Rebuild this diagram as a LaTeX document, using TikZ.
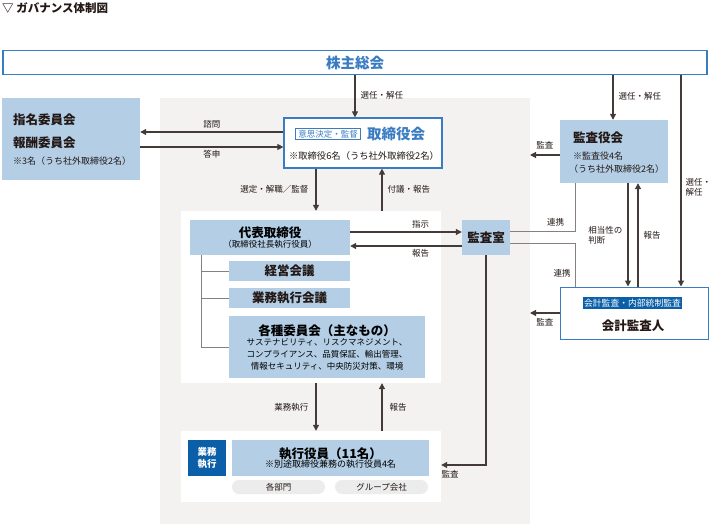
\documentclass[tikz,border=0pt]{standalone}
\usepackage{fontspec}
\setmainfont{Noto Sans CJK JP}
\usetikzlibrary{arrows.meta}
\definecolor{lblue}{HTML}{B3CEE5}
\definecolor{dblue}{HTML}{0B5FA8}
\definecolor{bline}{HTML}{3A7CC2}
\definecolor{bgray}{HTML}{F3F2F0}
\definecolor{ink}{HTML}{231815}
\definecolor{pillgray}{HTML}{ECECEC}
\tikzset{
  arr/.style={draw=ink!85, line width=1.1pt, -{Triangle[length=6pt,width=6pt]}},
  lnk/.style={draw=ink!55, line width=0.8pt},
  lbl/.style={font=\fontsize{8.5}{10}\selectfont, text=ink, inner sep=1pt},
  note/.style={font=\fontsize{9}{11}\selectfont, text=ink, inner sep=0pt},
  head/.style={font=\fontsize{12.5}{14}\selectfont\bfseries, text=ink, inner sep=0pt},
  bluebox/.style={fill=lblue, inner sep=0pt},
  pillbox/.style={fill=pillgray, rounded corners=7pt, inner sep=0pt,
    minimum width=93pt, minimum height=14pt, font=\fontsize{8.5}{10}\selectfont, text=ink},
}
\begin{document}
\begin{tikzpicture}[x=1pt,y=-1pt]
  \useasboundingbox (0,0) rectangle (710,524);
  % background areas
  \fill[bgray] (160,98) rectangle (530,524);
  \node[fill=white, inner sep=0pt, minimum width=260pt, minimum height=172pt] (exec) at (311,297) {};
  \node[fill=white, inner sep=0pt, minimum width=260pt, minimum height=71pt] (ofc) at (311,466.5) {};
  \node[anchor=west, font=\fontsize{11.5}{13}\selectfont\bfseries, text=ink, inner sep=0pt] (title) at (2,8) {▽ ガバナンス体制図};
  % shareholders
  \node[draw=bline, line width=1.5pt, fill=white, minimum width=704pt, minimum height=24pt,
    font=\fontsize{14.5}{16}\selectfont\bfseries, text=bline] (kabu) at (355,62.5) {株主総会};
  % committees
  \node[bluebox, minimum width=138pt, minimum height=82pt] (shimei) at (71,139) {};
  \node[head, anchor=west] (shimeiA) at (13,120) {指名委員会};
  \node[head, anchor=west] (shimeiB) at (13,143) {報酬委員会};
  \node[note, anchor=west] (shimeiC) at (13,161) {※3名（うち社外取締役2名）};
  % board
  \node[draw=bline, line width=1.2pt, fill=white, minimum width=158pt, minimum height=50pt] (tori) at (363,143) {};
  \node[draw=bline, line width=0.8pt, fill=white, inner xsep=2.5pt, inner ysep=1.5pt, font=\fontsize{8.5}{10}\selectfont, text=bline] (toritag) at (328,134) {意思決定・監督};
  \node[font=\fontsize{14.5}{16}\selectfont\bfseries, text=bline, inner sep=0pt, anchor=west] (toriname) at (367,134) {取締役会};
  \node[note, font=\fontsize{9.3}{11}\selectfont] (torinote) at (364,156) {※取締役6名（うち社外取締役2名）};
  % executive side
  \node[bluebox, minimum width=160pt, minimum height=35pt, align=center] (daihyo) at (270,237.5)
    {{\fontsize{12.5}{15}\selectfont\bfseries 代表取締役}\\[-2pt]{\fontsize{8.5}{10}\selectfont （取締役社長執行役員）}};
  \node[bluebox, head, minimum width=121pt, minimum height=20pt] (keiei) at (289.5,271) {経営会議};
  \node[bluebox, head, minimum width=121pt, minimum height=20pt] (gyomu) at (289.5,298) {業務執行会議};
  \node[bluebox, minimum width=196pt, minimum height=62pt, align=center] (kakushu) at (327,347)
    {{\fontsize{12.5}{15}\selectfont\bfseries 各種委員会（主なもの）}\\[-2pt]
     {\fontsize{8.5}{13}\selectfont サステナビリティ、リスクマネジメント、}\\
     {\fontsize{8.5}{13}\selectfont コンプライアンス、品質保証、輸出管理、}\\
     {\fontsize{8.5}{13}\selectfont 情報セキュリティ、中央防災対策、環境}};
  \draw[lnk] (daihyo.south -| 201,0) |- (kakushu.west);
  \draw[lnk] (keiei.west -| 201,0) -- (keiei.west);
  \draw[lnk] (gyomu.west -| 201,0) -- (gyomu.west);
  % audit
  \node[bluebox, head, minimum width=48pt, minimum height=35pt] (kansa) at (486,237.5) {監査室};
  \node[bluebox, minimum width=108pt, minimum height=63pt] (kyaku) at (614,151.5) {};
  \node[head, anchor=west] (kyakuA) at (573,138) {監査役会};
  \node[note, anchor=west] (kyakuB) at (573,156) {※監査役4名};
  \node[note, anchor=west] (kyakuC) at (569,169) {（うち社外取締役2名）};
  \node[draw=bline, line width=1pt, fill=white, minimum width=148pt, minimum height=52pt] (kaikei) at (634,313) {};
  \node[fill=dblue, text=white, inner sep=1.5pt, font=\fontsize{8.8}{10}\selectfont] (kaikeitag) at (632.5,303) {会計監査・内部統制監査};
  \node[head] (kaikeiname) at (633,325.5) {会計監査人};
  % officers
  \node[fill=dblue, text=white, inner sep=0pt, minimum width=38pt, minimum height=36pt, align=center,
    font=\fontsize{9.5}{12}\selectfont\bfseries] (gyotag) at (207,458) {業務\\執行};
  \node[bluebox, minimum width=197pt, minimum height=36pt, align=center] (yakuin) at (330.5,458)
    {{\fontsize{12.5}{15}\selectfont\bfseries 執行役員（11名）}\\[-3pt]{\fontsize{9}{11}\selectfont ※別途取締役兼務の執行役員4名}};
  \node[pillbox] (bumon) at (278.5,487) {各部門};
  \node[pillbox] (group) at (381.5,487) {グループ会社};
  \coordinate (edgeA) at (530,155);
  \coordinate (edgeB) at (530,313);
  % arrows
  \draw[arr] (kabu.south -| 355,0) -- (tori.north -| 355,0) node[lbl, midway, right=4pt, yshift=1pt] {選任・解任};
  \draw[arr] (kabu.south -| 613,0) -- (kyaku.north -| 613,0) node[lbl, midway, right=4pt, yshift=1pt] {選任・解任};
  \draw[arr] (kabu.south -| 681,0) -- (kaikei.north -| 681,0) node[lbl, pos=0.53, right=3pt, align=left] {選任・\\解任};
  \draw[arr] (tori.west |- 0,132) -- (shimei.east |- 0,132) node[lbl, midway, above=2pt] {諮問};
  \draw[arr] (shimei.east |- 0,147) -- (tori.west |- 0,147) node[lbl, midway, below=2pt] {答申};
  \draw[arr] (tori.south -| 316,0) -- (exec.north -| 316,0) node[lbl, midway, left=6pt] {選定・解職／監督};
  \draw[arr] (exec.north -| 382,0) -- (tori.south -| 382,0) node[lbl, midway, right=4pt] {付議・報告};
  \draw[arr] (daihyo.east |- 0,232) -- (kansa.west |- 0,232) node[lbl, pos=0.63, above=2pt] {指示};
  \draw[arr] (kansa.west |- 0,246) -- (daihyo.east |- 0,246) node[lbl, pos=0.37, below=2pt] {報告};
  \draw[arr] (kyaku.west |- edgeA) -- (edgeA) node[lbl, midway, above=4pt] {監査};
  \draw[arr] (kaikei.west |- edgeB) -- (edgeB) node[lbl, midway, below=4pt] {監査};
  \draw[lnk] (kansa.east |- 0,231) -| (kyaku.south -| 575,0) node[lbl, pos=0.35, above=3pt] {連携};
  \draw[lnk] (kansa.east |- 0,243) -| (kaikei.north -| 575,0) node[lbl, pos=0.85, left=3pt] {連携};
  \draw[arr] (kyaku.south -| 628,0) -- (kaikei.north -| 628,0) node[lbl, pos=0.5, left=4pt, align=left] {相当性の\\判断};
  \draw[arr] (kaikei.north -| 638,0) -- (kyaku.south -| 638,0) node[lbl, pos=0.5, right=4pt] {報告};
  \draw[arr] (kansa.south) |- (ofc.east |- 0,465) node[lbl, pos=0.9, below=4pt] {監査};
  \draw[arr] (exec.south -| 316,0) -- (ofc.north -| 316,0) node[lbl, midway, left=6pt] {業務執行};
  \draw[arr] (ofc.north -| 382,0) -- (exec.south -| 382,0) node[lbl, midway, right=6pt] {報告};
\end{tikzpicture}
\end{document}
